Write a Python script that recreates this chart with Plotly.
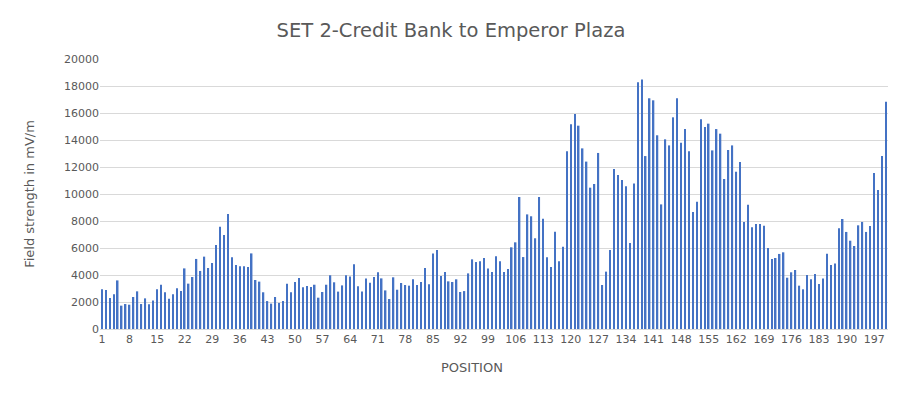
import plotly.graph_objects as go

positions = list(range(1, 201))
field_strength = [
    2940, 2890, 2300, 2570, 3600, 1730, 1850, 1800, 2370, 2790, 1850, 2270, 1830, 2120, 2940, 3280, 2720, 2250, 2570, 3010, 2810, 4490, 3360, 3850,
    5190, 4300, 5360, 4520, 4890, 6220, 7580, 6960, 8520, 5310, 4740, 4640, 4640, 4590, 5600, 3630, 3510, 2720, 2070, 1880, 2370, 1930, 2070, 3360,
    2720, 3480, 3780, 3090, 3190, 3110, 3280, 2320, 2740, 3280, 3980, 3460, 2770, 3230, 3980, 3880, 4790, 3160, 2770, 3750, 3430, 3850, 4200, 3750,
    2860, 2220, 3830, 2910, 3410, 3260, 3210, 3680, 3260, 3480, 4520, 3310, 5600, 5850, 3930, 4220, 3530, 3480, 3680, 2740, 2810, 4120, 5160, 4960,
    5010, 5260, 4490, 4220, 5380, 5010, 4220, 4440, 6050, 6420, 9780, 5330, 8490, 8350, 6720, 9780, 8170, 5310, 4590, 7210, 5010, 6100, 13160, 15160, 15930,
    15060, 13380, 12400, 10470, 10740, 13040, 3260, 4250, 5850, 11850, 11410, 11040, 10570, 6370, 10770, 18270, 18490, 12810, 17090, 16940, 14350, 9230, 14050, 13600,
    15680, 17090, 13800, 14810, 13160, 8670, 9430, 15530, 14960, 15210, 13230, 14810, 14470, 11110, 13260, 13600, 11650, 12370, 7930, 9210, 7530, 7780, 7780, 7650,
    6000, 5190, 5260, 5560, 5680, 3800, 4200, 4370, 3210, 2940, 4000, 3680, 4070, 3330, 3750, 5580, 4740, 4860, 7460, 8150, 7190, 6540, 6150, 7680,
    7930, 7190, 7630, 11560, 10300, 12810, 16840,
]
x_ticks = list(range(1, 201, 7))
y_ticks = list(range(0, 20001, 2000))

title_text = "SET 2-Credit Bank to Emperor Plaza"
y_title = "Field strength in mV/m"
x_title = "POSITION"

grey = "#595959"
FONT = "DejaVu Sans"
W, H = 895, 388  # page body has an 8px margin
fig = go.Figure(go.Bar(x=positions, y=field_strength, marker=dict(color="#4472C4", line=dict(width=0))))
fig.update_layout(
    width=W, height=H,
    paper_bgcolor="white", plot_bgcolor="white",
    margin=dict(l=92, r=15, t=51, b=67),
    bargap=0.62,
    font=dict(family=FONT, color=grey, size=11),
    title=dict(text=title_text, x=443 / W, xanchor="center", y=1 - 22 / H, yanchor="middle",
               yref="container", font=dict(family=FONT, size=19.5, color=grey)),
    showlegend=False,
    annotations=[dict(text=x_title, xref="paper", yref="paper", x=0.472, y=-38 / 270,
                      xanchor="center", yanchor="middle", showarrow=False,
                      font=dict(family=FONT, size=13, color=grey))],
)
fig.update_xaxes(
    range=[0.5, 200.5], tickmode="array", tickvals=x_ticks, ticktext=[str(v) for v in x_ticks],
    showgrid=False, zeroline=False, showline=True, linecolor="#d9d9d9", linewidth=1,
    ticks="", tickfont=dict(family=FONT, size=11, color=grey),
)
fig.update_yaxes(
    range=[0, 20000], tickmode="array", tickvals=y_ticks, ticktext=[str(v) for v in y_ticks],
    showgrid=True, gridcolor="#d9d9d9", gridwidth=1, zeroline=False, showline=False,
    ticks="", tickfont=dict(family=FONT, size=11, color=grey),
    title=dict(text=y_title, font=dict(family=FONT, size=13, color=grey), standoff=26),
)
fig.write_html("out.html")
